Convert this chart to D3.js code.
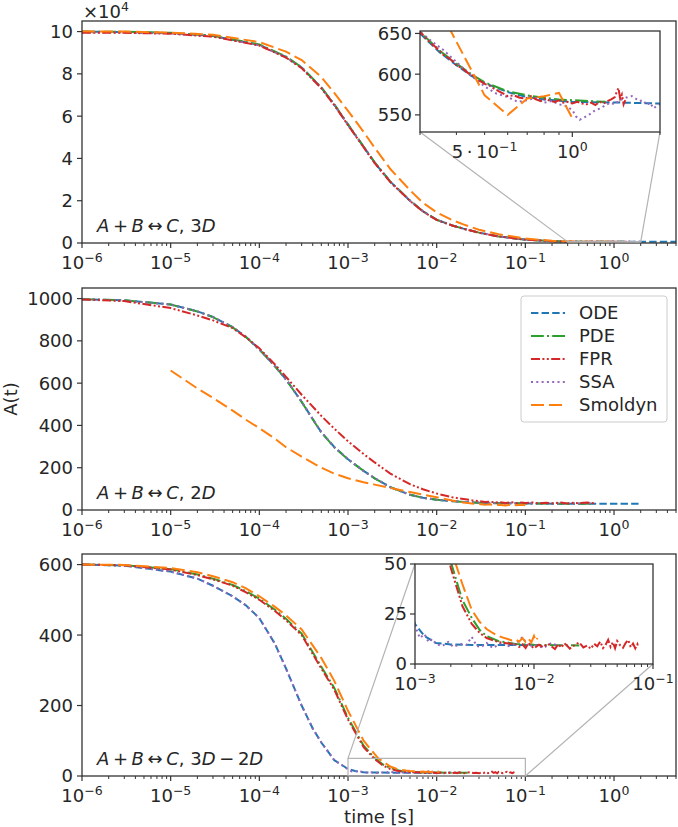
<!DOCTYPE html>
<html>
<head>
<meta charset="utf-8">
<script src="https://cdn.jsdelivr.net/npm/d3@7"></script>
<style>
  body { margin: 0; background: #fff; }
  text { font-family: "DejaVu Sans", sans-serif; fill: #262626; }
</style>
</head>
<body>
<svg id="fig" width="678" height="827"></svg>
<script>
// ---- data: [time, A(t)] ----
var seriesNames = ["ODE", "PDE", "FPR", "SSA", "Smoldyn"];

// panel 1: A + B <-> C, 3D
var ode3d = [[1e-6,99900],[3e-6,99800],[1e-5,99300],[3e-5,97900],[1e-4,93700],[2e-4,88000],[3e-4,83000],[5e-4,73500],[7e-4,65500],[1e-3,56000],[1.5e-3,45500],[2e-3,38000],[3e-3,29000],[5e-3,20000],[7e-3,15000],[1e-2,11000],[1.5e-2,8300],[2e-2,6800],[3e-2,4900],[5e-2,3100],[0.1,1600],[0.2,850],[0.3,650],[0.35,627],[0.4,611],[0.45,598],[0.5,589],[0.6,578],[0.7,572],[0.8,569],[1,566],[1.5,565],[2,564],[3,564],[5,564]];
var pde3d = [[1e-6,100000],[3e-6,99900],[1e-5,99400],[3e-5,98000],[1e-4,93900],[2e-4,88200],[3e-4,83100],[5e-4,73600],[7e-4,65600],[1e-3,56100],[1.5e-3,45600],[2e-3,38100],[3e-3,29100],[5e-3,20100],[7e-3,15000],[1e-2,11000],[1.5e-2,8300],[2e-2,6800],[3e-2,4900],[5e-2,3100],[0.1,1600],[0.2,855],[0.3,652],[0.35,629],[0.4,613],[0.45,600],[0.5,590],[0.6,579],[0.7,574],[0.8,571],[0.9,569],[1,568],[1.15,567],[1.3,566]];
var fpr3d = [[1e-6,99500],[3e-6,99400],[1e-5,99000],[3e-5,97600],[1e-4,93400],[2e-4,87700],[3e-4,82700],[5e-4,73200],[7e-4,65200],[1e-3,55700],[1.5e-3,45300],[2e-3,37800],[3e-3,28800],[5e-3,19900],[7e-3,14900],[1e-2,10900],[1.5e-2,8250],[2e-2,6750],[3e-2,4870],[5e-2,3080],[0.1,1590],[0.2,845],
  [0.30,652],[0.32,641],[0.34,633],[0.36,624],[0.38,619],[0.40,611],[0.42,607],[0.44,601],[0.46,597],[0.48,592],[0.50,588],[0.52,586],[0.54,582],[0.56,579],[0.58,576],[0.60,573],[0.63,574],[0.66,571],[0.69,570],[0.72,573],[0.75,569],[0.78,567],[0.81,570],[0.84,567],[0.87,566],[0.90,568],[0.93,565],[0.96,566],[1.00,564],[1.04,566],[1.08,564],[1.12,563],[1.16,565],[1.20,562],[1.24,566],[1.28,564],[1.32,567],[1.36,569],[1.40,572],[1.42,578],[1.44,583],[1.46,570],[1.48,575],[1.50,563],[1.52,568]];
var ssa3d = [[1e-6,99600],[3e-6,99500],[1e-5,99100],[3e-5,97700],[1e-4,93500],[2e-4,87800],[3e-4,82800],[5e-4,73300],[7e-4,65300],[1e-3,55800],[1.5e-3,45400],[2e-3,37900],[3e-3,28900],[5e-3,19950],[7e-3,14950],[1e-2,10950],[1.5e-2,8280],[2e-2,6780],[3e-2,4890],[5e-2,3090],[0.1,1595],[0.2,848],
  [0.30,652],[0.33,640],[0.36,630],[0.40,615],[0.45,598],[0.50,585],[0.55,576],[0.60,572],[0.65,566],[0.70,568],[0.75,571],[0.80,565],[0.85,567],[0.90,563],[0.95,561],[1.00,556],[1.03,548],[1.06,544],[1.10,547],[1.15,551],[1.20,556],[1.25,558],[1.30,562],[1.35,565],[1.40,563],[1.45,568],[1.50,570],[1.55,572],[1.60,573],[1.65,570],[1.70,567],[1.75,568],[1.80,562],[1.85,565],[1.90,558],[1.95,561],[2.00,563]];
var smol3d = [[1e-6,100100],[3e-6,100000],[1e-5,99500],[3e-5,98500],[1e-4,95000],[2e-4,90500],[3e-4,86500],[5e-4,78500],[7e-4,71000],[1e-3,62500],[1.5e-3,52500],[2e-3,45000],[3e-3,35000],[5e-3,25000],[7e-3,19000],[1e-2,14500],[1.5e-2,10800],[2e-2,8800],[3e-2,6300],[5e-2,4100],[0.1,2100],[0.2,1050],[0.3,725],[0.5,574],[0.6,550],[0.7,570],[0.8,573],[0.9,577],[1.0,546]];

// panel 2: A + B <-> C, 2D
var ode2d = [[1e-6,997],[3e-6,992],[1e-5,972],[2e-5,940],[3e-5,913],[5e-5,865],[7e-5,820],[1e-4,760],[1.5e-4,680],[2e-4,618],[3e-4,512],[4e-4,430],[5e-4,368],[7e-4,298],[1e-3,240],[1.5e-3,185],[2e-3,150],[3e-3,108],[5e-3,72],[7e-3,58],[1e-2,48],[2e-2,38],[3e-2,34],[5e-2,32],[0.1,31],[0.2,30],[0.5,30],[1,30],[2,30]];
var pde2d = [[1e-6,997],[3e-6,992],[1e-5,972],[2e-5,939],[3e-5,912],[5e-5,864],[7e-5,819],[1e-4,759],[1.5e-4,679],[2e-4,617],[3e-4,511],[4e-4,429],[5e-4,367],[7e-4,297],[1e-3,239],[1.5e-3,185],[2e-3,150],[3e-3,108],[5e-3,72],[7e-3,58],[1e-2,48],[2e-2,38],[3e-2,34],[5e-2,32],[0.1,31],[0.2,30],[0.6,30]];
var fpr2d = [[1e-6,996],[3e-6,988],[1e-5,955],[2e-5,920],[3e-5,897],[5e-5,860],[7e-5,818],[1e-4,765],[1.5e-4,688],[2e-4,630],[3e-4,545],[5e-4,445],[7e-4,385],[1e-3,325],[1.5e-3,265],[2e-3,225],[3e-3,172],[5e-3,122],[7e-3,98],[1e-2,78],[1.5e-2,60],[2e-2,52],[2.5e-2,46],[3e-2,42],[3.5e-2,38],[4e-2,40],[4.5e-2,35],[5e-2,37],[6e-2,33],[7e-2,37],[8e-2,32],[9e-2,35],[0.1,33],[0.12,36],[0.14,31],[0.17,34],[0.2,32],[0.25,35],[0.3,31],[0.35,34],[0.4,32],[0.5,35],[0.6,32]];
var ssa2d = [[1e-6,996],[3e-6,991],[1e-5,971],[2e-5,940],[3e-5,912],[5e-5,865],[7e-5,821],[1e-4,759],[1.5e-4,681],[2e-4,617],[3e-4,513],[4e-4,429],[5e-4,369],[7e-4,297],[1e-3,241],[1.5e-3,184],[2e-3,151],[3e-3,107],[5e-3,73],[7e-3,57],[1e-2,49],[2e-2,37],[3e-2,35],[5e-2,31],[0.1,32],[0.2,29],[0.4,31],[0.6,30]];
var smol2d = [[1e-5,660],[2e-5,575],[3e-5,530],[5e-5,470],[7e-5,428],[1e-4,387],[1.5e-4,337],[2e-4,297],[3e-4,252],[5e-4,200],[7e-4,172],[1e-3,150],[1.5e-3,131],[2e-3,120],[3e-3,104],[5e-3,85],[7e-3,73],[1e-2,60],[1.5e-2,45],[2e-2,36],[2.5e-2,31],[3e-2,28],[3.5e-2,25],[4e-2,27],[4.5e-2,22],[5e-2,25],[6e-2,21],[7e-2,26],[8e-2,22],[9e-2,25],[0.1,23]];

// panel 3: A + B <-> C, 3D - 2D
var odeMix = [[1e-6,600],[3e-6,597],[1e-5,580],[2e-5,560],[3e-5,540],[5e-5,510],[7e-5,485],[1e-4,448],[1.5e-4,375],[2e-4,305],[3e-4,200],[4e-4,135],[5e-4,95],[7e-4,45],[1e-3,20],[1.2e-3,14],[1.5e-3,10.5],[2e-3,9.8],[3e-3,9.5],[5e-3,9.5],[1e-2,9.5]];
var pdeMix = [[1e-6,600],[3e-6,598],[1e-5,587],[2e-5,572],[3e-5,560],[5e-5,542],[7e-5,525],[1e-4,503],[1.5e-4,472],[2e-4,446],[3e-4,404],[5e-4,310],[7e-4,250],[1e-3,165],[1.5e-3,86],[2e-3,51],[2.5e-3,32],[3e-3,23],[3.5e-3,17],[4e-3,14],[5e-3,11.5],[7e-3,10],[1e-2,9.6],[1.5e-2,9.4],[2.4e-2,9.3]];
var fprMix = [[1e-6,600],[3e-6,598],[1e-5,586],[2e-5,570],[3e-5,558],[5e-5,540],[7e-5,522],[1e-4,500],[1.5e-4,468],[2e-4,442],[3e-4,400],[5e-4,305],[7e-4,245],[1e-3,160],[1.5e-3,82],[2e-3,48],[2.5e-3,29],[3e-3,20],[3.5e-3,15.5],[4e-3,13],[5e-3,11],[6e-3,10.3],
  [7e-3,10],[7.5e-3,8.5],[8e-3,9.8],[8.5e-3,8],[9e-3,10.5],[9.5e-3,9],[1e-2,7.8],[1.1e-2,9.6],[1.2e-2,8.4],[1.3e-2,10.2],[1.4e-2,8.8],[1.5e-2,7.5],[1.6e-2,9.9],[1.7e-2,8.2],[1.8e-2,10.4],[1.9e-2,9.1],[2e-2,7.7],[2.2e-2,9.5],[2.4e-2,10.8],[2.6e-2,8.3],[2.8e-2,9.2],[3e-2,7.6],[3.2e-2,10.1],[3.4e-2,8.9],[3.6e-2,11.2],[3.8e-2,8.0],[4e-2,9.7],[4.2e-2,12.1],[4.4e-2,8.6],[4.6e-2,10.9],[4.8e-2,7.9],[5e-2,11.5],[5.3e-2,9.3],[5.6e-2,8.1],[5.9e-2,10.6],[6.2e-2,12.0],[6.5e-2,8.4],[6.8e-2,10.2],[7.1e-2,7.8],[7.4e-2,9.9],[7.5e-2,8.7]];
var ssaMix = [[1e-6,600],[3e-6,597],[1e-5,580],[2e-5,560],[3e-5,540],[5e-5,510],[7e-5,485],[1e-4,448],[1.5e-4,375],[2e-4,305],[3e-4,200],[4e-4,135],[5e-4,95],[7e-4,45],
  [1e-3,19],[1.1e-3,13],[1.2e-3,15],[1.3e-3,11],[1.4e-3,12.5],[1.5e-3,10],[1.7e-3,9],[1.9e-3,11],[2.1e-3,8.5],[2.4e-3,10],[2.7e-3,9.5],[3e-3,13.5],[3.3e-3,9],[3.6e-3,8.5],[4e-3,10.5],[4.5e-3,8],[5e-3,9.5],[5.5e-3,11],[6e-3,8.8],[7e-3,10],[8e-3,13.5],[9e-3,8.5],[1e-2,9.8],[1.2e-2,8],[1.4e-2,10.5],[1.6e-2,9],[1.8e-2,10]];
var smolMix = [[1e-6,600],[3e-6,599],[1e-5,590],[2e-5,578],[3e-5,567],[5e-5,550],[7e-5,533],[1e-4,510],[1.5e-4,480],[2e-4,456],[3e-4,416],[5e-4,335],[7e-4,270],[1e-3,185],[1.5e-3,100],[2e-3,62],[2.2e-3,50],[2.5e-3,40],[3e-3,27],[3.5e-3,21],[4e-3,17.5],[4.5e-3,15.5],[5e-3,14],[5.5e-3,13.2],[6e-3,12.5],[6.5e-3,11.8],[7e-3,12.4],[7.5e-3,11.2],[8e-3,13],[8.5e-3,11],[9e-3,12.6],[9.5e-3,10.8],[1e-2,14],[1.04e-2,11.5],[1.07e-2,13]];

// ticks
var xDecades = [1e-6, 1e-5, 1e-4, 1e-3, 1e-2, 1e-1, 1];
var yTicks3d = [0, 20000, 40000, 60000, 80000, 100000];
var yTicks2d = [0, 200, 400, 600, 800, 1000];
var yTicksMix = [0, 200, 400, 600];
var inset3dY = [550, 600, 650];
var insetMixY = [0, 25, 50];
var insetMixX = [1e-3, 1e-2, 1e-1];

// ---- styles ----
var colors = ["#1f77b4", "#2ca02c", "#d62728", "#9467bd", "#ff7f0e"];
var dashes = ["7.4,3.2", "12.8,3.2,2,3.2", "9,2.4,2,2.4,2,2.4", "2,3.3", "13,5"];
var drawOrder = [0, 1, 3, 2, 4];
var FS = 18, SUP = 12.5;

var svg = d3.select("#fig");
var X0 = 82, X1 = 676;
var frameColor = "#333";

function supLabel(g, x, y, base, exp, anchor) {
  var t = g.append("text").attr("x", x).attr("y", y)
    .attr("text-anchor", anchor || "middle").style("font-size", FS + "px");
  t.append("tspan").text(base);
  t.append("tspan").attr("dy", -7).style("font-size", SUP + "px").text(exp);
  return t;
}

function mathLabel(g, x, y, parts) {
  var t = g.append("text").attr("x", x).attr("y", y).style("font-size", FS + "px");
  parts.forEach(function (p) {
    t.append("tspan").text(p[0]).style("font-style", p[1] ? "italic" : "normal");
  });
}

function expText(v) {
  var e = Math.round(Math.log10(v));
  return e < 0 ? "\u2212" + (-e) : "" + e;
}

var clipId = 0;
function drawSeries(g, data, x, y, box) {
  var id = "clip" + (clipId++);
  g.append("clipPath").attr("id", id).append("rect")
    .attr("x", box[0]).attr("y", box[1]).attr("width", box[2] - box[0]).attr("height", box[3] - box[1]);
  var line = d3.line().x(function (d) { return x(d[0]); }).y(function (d) { return y(d[1]); });
  var lg = g.append("g").attr("clip-path", "url(#" + id + ")");
  drawOrder.forEach(function (i) {
    lg.append("path").datum(data[i]).attr("d", line)
      .attr("fill", "none").attr("stroke", colors[i]).attr("stroke-width", 2)
      .attr("stroke-dasharray", dashes[i]);
  });
}

function drawPanel(cfg) {
  var g = svg.append("g");
  var x = d3.scaleLog().domain([1e-6, 5]).range([X0, X1]);
  var y = d3.scaleLinear().domain([0, cfg.ymax]).range([cfg.bottom, cfg.top]);

  drawSeries(g, cfg.data, x, y, [X0, cfg.top, X1, cfg.bottom]);

  // x ticks
  var minor = x.ticks(60).filter(function (v) {
    return Math.abs(Math.log10(v) - Math.round(Math.log10(v))) > 1e-6;
  });
  minor.forEach(function (v) {
    g.append("line").attr("x1", x(v)).attr("x2", x(v)).attr("y1", cfg.bottom).attr("y2", cfg.bottom + 3)
      .attr("stroke", frameColor).attr("stroke-width", 1);
  });
  xDecades.forEach(function (v) {
    g.append("line").attr("x1", x(v)).attr("x2", x(v)).attr("y1", cfg.bottom).attr("y2", cfg.bottom + 5)
      .attr("stroke", frameColor).attr("stroke-width", 1.2);
    supLabel(g, x(v), cfg.bottom + 26, "10", expText(v));
  });
  // y ticks
  cfg.yticks.forEach(function (v) {
    g.append("line").attr("x1", X0 - 5).attr("x2", X0).attr("y1", y(v)).attr("y2", y(v))
      .attr("stroke", frameColor).attr("stroke-width", 1.2);
    g.append("text").attr("x", X0 - 9).attr("y", y(v)).attr("dy", "0.36em")
      .attr("text-anchor", "end").style("font-size", FS + "px").text(cfg.ylab(v));
  });
  g.append("rect").attr("x", X0).attr("y", cfg.top).attr("width", X1 - X0).attr("height", cfg.bottom - cfg.top)
    .attr("fill", "none").attr("stroke", frameColor).attr("stroke-width", 1.3);

  mathLabel(g, 97, cfg.bottom - 11, cfg.label);

  if (cfg.inset) drawInset(g, cfg, x, y);
  return g;
}

function drawInset(g, cfg, mx, my) {
  var ins = cfg.inset;
  var x = d3.scaleLog().domain(ins.xdom).range([ins.left, ins.right]);
  var y = d3.scaleLinear().domain(ins.ydom).range([ins.bottom, ins.top]);

  // zoom box in main axes + connectors
  var rx0 = mx(ins.xdom[0]), rx1 = mx(ins.xdom[1]);
  var ry0 = my(ins.ydom[1]), ry1 = my(ins.ydom[0]);
  var grey = "#b3b3b3";
  g.append("rect").attr("x", rx0).attr("y", ry0).attr("width", rx1 - rx0).attr("height", Math.max(ry1 - ry0, 0.5))
    .attr("fill", "none").attr("stroke", grey).attr("stroke-width", 1.2);
  ins.links.forEach(function (l) {
    var a = [l[0] ? rx1 : rx0, l[1] ? ry1 : ry0];
    var b = [l[0] ? ins.right : ins.left, l[1] ? ins.bottom : ins.top];
    g.append("line").attr("x1", a[0]).attr("y1", a[1]).attr("x2", b[0]).attr("y2", b[1])
      .attr("stroke", grey).attr("stroke-width", 1.2);
  });

  g.append("rect").attr("x", ins.left).attr("y", ins.top).attr("width", ins.right - ins.left)
    .attr("height", ins.bottom - ins.top).attr("fill", "#fff");
  drawSeries(g, cfg.data, x, y, [ins.left, ins.top, ins.right, ins.bottom]);

  ins.yticks.forEach(function (v) {
    g.append("line").attr("x1", ins.left - 5).attr("x2", ins.left).attr("y1", y(v)).attr("y2", y(v))
      .attr("stroke", frameColor).attr("stroke-width", 1.2);
    g.append("text").attr("x", ins.left - 8).attr("y", y(v)).attr("dy", "0.36em")
      .attr("text-anchor", "end").style("font-size", FS + "px").text(v);
  });
  ins.xminor.forEach(function (v) {
    g.append("line").attr("x1", x(v)).attr("x2", x(v)).attr("y1", ins.bottom).attr("y2", ins.bottom + 3)
      .attr("stroke", frameColor).attr("stroke-width", 1);
  });
  ins.xmajor.forEach(function (v) {
    g.append("line").attr("x1", x(v)).attr("x2", x(v)).attr("y1", ins.bottom).attr("y2", ins.bottom + 5)
      .attr("stroke", frameColor).attr("stroke-width", 1.2);
  });
  ins.xlabels.forEach(function (l) {
    supLabel(g, x(l[0]), ins.bottom + 26, l[1], l[2]);
  });
  g.append("rect").attr("x", ins.left).attr("y", ins.top).attr("width", ins.right - ins.left)
    .attr("height", ins.bottom - ins.top).attr("fill", "none").attr("stroke", frameColor).attr("stroke-width", 1.3);
}

var TS = "\u2009";
// panel 1
var p1 = drawPanel({
  data: [ode3d, pde3d, fpr3d, ssa3d, smol3d], top: 21, bottom: 243, ymax: 105000,
  yticks: yTicks3d, ylab: function (v) { return v / 10000; },
  label: [["A", 1], [TS + "+" + TS, 0], ["B", 1], [TS + "\u2194" + TS, 0], ["C", 1], [", ", 0], ["3", 0], ["D", 1]],
  inset: {
    left: 420, right: 660, top: 31, bottom: 132, xdom: [0.3, 2], ydom: [529, 653],
    yticks: inset3dY,
    xmajor: [1], xminor: [0.3, 0.4, 0.5, 0.6, 0.7, 0.8, 0.9, 2],
    xlabels: [[0.5, "5\u2009\u00b7\u200910", "\u22121"], [1, "10", "0"]],
    links: [[0, 1], [1, 1]]
  }
});
supLabel(p1, X0 + 1, 18, "\u00d710", "4", "start");

// panel 2
var p2 = drawPanel({
  data: [ode2d, pde2d, fpr2d, ssa2d, smol2d], top: 288, bottom: 510, ymax: 1050,
  yticks: yTicks2d, ylab: function (v) { return v; },
  label: [["A", 1], [TS + "+" + TS, 0], ["B", 1], [TS + "\u2194" + TS, 0], ["C", 1], [", ", 0], ["2", 0], ["D", 1]]
});

// legend
var lg = p2.append("g");
lg.append("rect").attr("x", 521).attr("y", 296).attr("width", 146).attr("height", 126).attr("rx", 3)
  .attr("fill", "#fff").attr("fill-opacity", 0.8).attr("stroke", "#cccccc");
seriesNames.forEach(function (name, i) {
  var yy = 313 + i * 23;
  lg.append("line").attr("x1", 531).attr("x2", 565).attr("y1", yy).attr("y2", yy)
    .attr("stroke", colors[i]).attr("stroke-width", 2).attr("stroke-dasharray", dashes[i]);
  lg.append("text").attr("x", 579).attr("y", yy).attr("dy", "0.36em").style("font-size", FS + "px").text(name);
});

// panel 3
drawPanel({
  data: [odeMix, pdeMix, fprMix, ssaMix, smolMix], top: 554, bottom: 776, ymax: 630,
  yticks: yTicksMix, ylab: function (v) { return v; },
  label: [["A", 1], [TS + "+" + TS, 0], ["B", 1], [TS + "\u2194" + TS, 0], ["C", 1], [", ", 0], ["3", 0], ["D", 1], [TS + "\u2212" + TS, 0], ["2", 0], ["D", 1]],
  inset: {
    left: 415, right: 653, top: 564, bottom: 664, xdom: [1e-3, 1e-1], ydom: [0, 50],
    yticks: insetMixY,
    xmajor: insetMixX, xminor: [2e-3, 3e-3, 4e-3, 5e-3, 6e-3, 7e-3, 8e-3, 9e-3, 2e-2, 3e-2, 4e-2, 5e-2, 6e-2, 7e-2, 8e-2, 9e-2],
    xlabels: insetMixX.map(function (v) { return [v, "10", expText(v)]; }),
    links: [[0, 0], [1, 1]]
  }
});

// axis titles
svg.append("text").attr("x", (X0 + X1) / 2).attr("y", 823).attr("text-anchor", "middle")
  .style("font-size", FS + "px").text("time [s]");
svg.append("text").attr("transform", "translate(17,399) rotate(-90)").attr("text-anchor", "middle")
  .style("font-size", FS + "px").text("A(t)");
</script>
</body>
</html>
